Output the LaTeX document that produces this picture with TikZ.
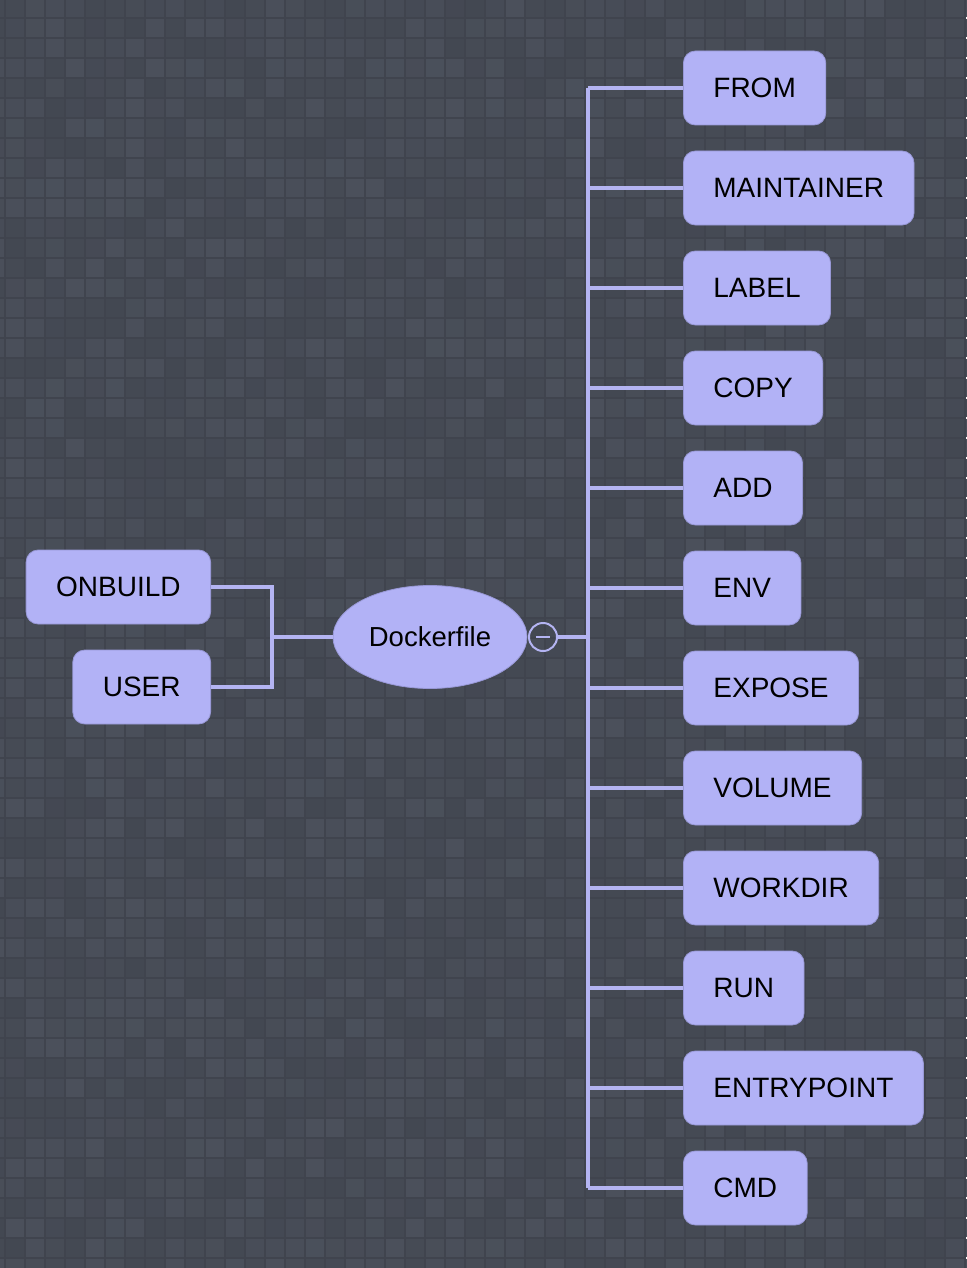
\documentclass[tikz,border=0pt]{standalone}
\usepackage{fontspec}
\setmainfont{Liberation Sans}
\usetikzlibrary{shapes.geometric}
\definecolor{bggrid}{HTML}{40444E}
\definecolor{sqA}{HTML}{4B505B}
\definecolor{sqB}{HTML}{434852}
\definecolor{boxfill}{HTML}{B2B2F6}
\definecolor{boxline}{HTML}{9898D6}
\definecolor{conn}{HTML}{B4B4F2}
\tikzset{
  cmdbox/.style={draw=boxline, line width=0.8pt, fill=boxfill, rounded corners=12pt,
    inner xsep=30pt, inner ysep=0pt, minimum height=74pt, text=black,
    font=\fontsize{28}{33}\selectfont},
  rootnode/.style={ellipse, draw=boxline, line width=0.8pt, fill=boxfill, inner sep=0pt,
    minimum width=194pt, minimum height=103pt, text=black,
    font=\fontsize{27.5}{33}\selectfont},
  connector/.style={draw=conn, line width=3.5pt},
  collapser/.style={circle, draw=conn, line width=2pt, minimum size=28pt, inner sep=0pt}
}
\begin{document}
\begin{tikzpicture}[x=1pt,y=-1pt]
\useasboundingbox (0,0) rectangle (966,1268);
% background tiles
\fill[bggrid] (0,0) rectangle (966,1268);
\pgfmathsetseed{7}
\foreach \i in {-1,...,48}{
  \foreach \j in {-1,...,63}{
    \pgfmathrandominteger{\r}{0}{100}
    \fill[sqA!\r!sqB] (\i*20+6,\j*20+19) rectangle +(18,18);
  }
}
% nodes
\node[rootnode] (doc) at (430,637) {Dockerfile};
\node[collapser] (collapse) at (543,637) {};
\draw[draw=conn, line width=2pt] ([xshift=-7pt]collapse.center) -- ([xshift=7pt]collapse.center);

\foreach \name/\txt [count=\k from 0] in {from/FROM, maint/MAINTAINER, label/LABEL, copy/COPY, add/ADD, env/ENV, expose/EXPOSE, volume/VOLUME, workdir/WORKDIR, run/RUN, entry/ENTRYPOINT, cmd/CMD}{
  \node[cmdbox, anchor=west] (\name) at (683, 88+\k*100) {\txt};
}
\node[cmdbox, anchor=east] (onbuild) at (211,587) {ONBUILD};
\node[cmdbox, anchor=east] (user) at (211,687) {USER};

% connectors
\coordinate (trunk) at (588,637);
\coordinate (ljoin) at (272,637);
\draw[connector] (collapse.east) -- (trunk);
\draw[connector] (from.west -| trunk) -- (cmd.west -| trunk);
\foreach \name in {from, maint, label, copy, add, env, expose, volume, workdir, run, entry, cmd}{
  \draw[connector] (\name.west -| trunk) -- (\name.west);
}
\draw[connector] (doc.west) -- (ljoin);
\draw[connector, line join=miter] (onbuild.east) -| (ljoin) |- (user.east);
\end{tikzpicture}
\end{document}
